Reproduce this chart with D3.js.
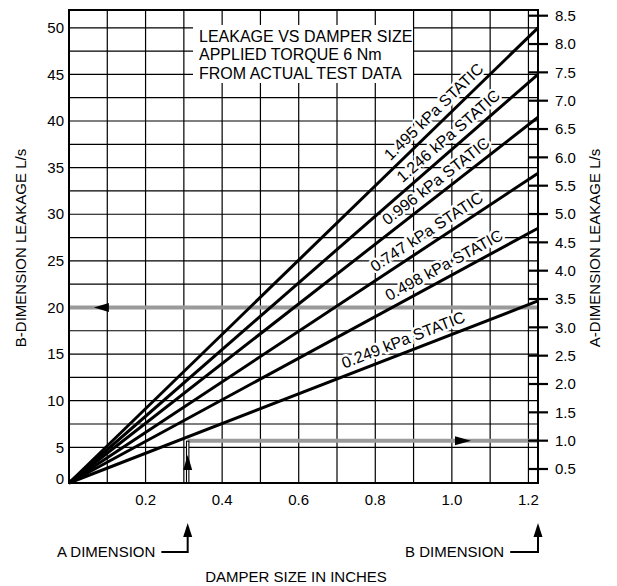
<!DOCTYPE html>
<html>
<head>
<meta charset="utf-8">
<script src="https://cdn.jsdelivr.net/npm/d3@7"></script>
<style>
  html, body { margin: 0; padding: 0; background: #fff; }
  svg { display: block; font-family: "Liberation Sans", Arial, Helvetica, sans-serif; }
</style>
</head>
<body>
<div id="chart"></div>
<script>
// static pressure of each curve (kPa)
const pressures = ["1.495", "1.246", "0.996", "0.747", "0.498", "0.249"];
// B-dimension leakage (L/s) where each curve meets the right edge of the grid
const edgeLeakage = [50.0, 45.0, 40.4, 34.4, 28.5, 20.7];
const edgeSize = 1.225;

const xTicks = [0.2, 0.4, 0.6, 0.8, 1.0, 1.2];
const xGrid = [0.1, 0.2, 0.3, 0.4, 0.5, 0.6, 0.7, 0.8, 0.9, 1.0, 1.1, 1.2];
const bTicks = [0, 5, 10, 15, 20, 25, 30, 35, 40, 45, 50];
const bGrid = [5, 7.5, 10, 12.5, 15, 17.5, 20, 22.5, 25, 27.5, 30, 32.5, 35, 37.5, 40, 42.5, 45, 47.5, 50];
const aTicks = [0.5, 1.0, 1.5, 2.0, 2.5, 3.0, 3.5, 4.0, 4.5, 5.0, 5.5, 6.0, 6.5, 7.0, 7.5, 8.0, 8.5];

const titleLines = ["LEAKAGE VS DAMPER SIZE", "APPLIED TORQUE 6 Nm", "FROM ACTUAL TEST DATA"];

// worked example: A dimension size (in) -> A leakage (L/s), B leakage read at the edge
const exampleASize = 0.31;
const exampleALeak = 1.0;
const exampleBLeak = 20;

const width = 617, height = 586;
const plotTop = 10, plotBottom = 483;

const svg = d3.select("#chart")
    .append("svg")
    .attr("width", width)
    .attr("height", height);

const x = d3.scaleLinear().domain([0, edgeSize]).range([69, 538]);
// left axis: the bottom step 0..5 is shorter on the original sheet
const yB = d3.scaleLinear().domain([0, 5, 50]).range([plotBottom, 447.3, 27.8]);
const yA = d3.scaleLinear().domain([0.5, 8.5]).range([469, 15.7]);

const left = x(0), right = x(edgeSize);

// grid
svg.append("g").selectAll("line")
    .data(xGrid)
    .join("line")
    .attr("x1", d => x(d)).attr("x2", d => x(d))
    .attr("y1", plotTop).attr("y2", plotBottom)
    .attr("stroke", "#000").attr("stroke-width", 1.2);

svg.append("g").selectAll("line")
    .data(bGrid)
    .join("line")
    .attr("x1", left).attr("x2", right)
    .attr("y1", d => yB(d)).attr("y2", d => yB(d))
    .attr("stroke", "#000").attr("stroke-width", 1.2);

// title box
const titleBox = svg.append("g").attr("transform", "translate(193, 25)");
titleBox.append("rect")
    .attr("width", 220).attr("height", 58)
    .attr("fill", "#fff");
titleBox.selectAll("text")
    .data(titleLines)
    .join("text")
    .attr("x", 6)
    .attr("y", (d, i) => 17 + i * 18.3)
    .style("font-size", "16px")
    .text(d => d);

// example read-off lines (gray)
const yBand = yB(exampleBLeak);
const yBandA = yA(exampleALeak);
svg.append("line")
    .attr("x1", left).attr("x2", right)
    .attr("y1", yBand).attr("y2", yBand)
    .attr("stroke", "#9a9a9a").attr("stroke-width", 4);
svg.append("line")
    .attr("x1", x(exampleASize)).attr("x2", right)
    .attr("y1", yBandA).attr("y2", yBandA)
    .attr("stroke", "#9a9a9a").attr("stroke-width", 4);

// vertical hollow line up from A dimension
svg.append("line")
    .attr("x1", x(exampleASize)).attr("x2", x(exampleASize))
    .attr("y1", plotBottom).attr("y2", yBandA)
    .attr("stroke", "#000").attr("stroke-width", 3.5);
svg.append("line")
    .attr("x1", x(exampleASize)).attr("x2", x(exampleASize))
    .attr("y1", plotBottom).attr("y2", yBandA + 1)
    .attr("stroke", "#fff").attr("stroke-width", 1.3);

// curve labels with white knockout
const lines = pressures.map((p, i) => ({
    label: `${p} kPa STATIC`,
    p0: [x(0), yB(0)],
    p1: [x(edgeSize), yB(edgeLeakage[i])]
}));
const labelAt = [0.975, 1.012, 0.978, 0.952, 0.995, 0.885];

svg.append("g").selectAll("text")
    .data(lines)
    .join("text")
    .attr("transform", (d, i) => {
        const slope = (d.p1[1] - d.p0[1]) / (d.p1[0] - d.p0[0]);
        const cx = x(labelAt[i]);
        const cy = d.p0[1] + (cx - d.p0[0]) * slope;
        const angle = Math.atan(slope) * 180 / Math.PI;
        return `translate(${cx}, ${cy}) rotate(${angle})`;
    })
    .attr("y", -7)
    .attr("text-anchor", "middle")
    .style("font-size", "16px")
    .attr("stroke", "#fff")
    .attr("stroke-width", 5)
    .attr("stroke-linejoin", "round")
    .attr("paint-order", "stroke")
    .attr("fill", "#000")
    .text(d => d.label);

// curves
const lineGen = d3.line();
svg.append("g").selectAll("path")
    .data(lines)
    .join("path")
    .attr("d", d => lineGen([d.p0, d.p1]))
    .attr("fill", "none")
    .attr("stroke", "#000")
    .attr("stroke-width", 3);

// arrow heads
function arrow(tipX, tipY, dir, len, half) {
    // dir: "left", "right", "up"
    let pts;
    if (dir === "left") pts = [[tipX, tipY], [tipX + len, tipY - half], [tipX + len, tipY + half]];
    else if (dir === "right") pts = [[tipX, tipY], [tipX - len, tipY - half], [tipX - len, tipY + half]];
    else pts = [[tipX, tipY], [tipX - half, tipY + len], [tipX + half, tipY + len]];
    svg.append("path")
        .attr("d", "M" + pts.join("L") + "Z")
        .attr("fill", "#000");
}
arrow(x(0.065), yBand, "left", 15, 4.5);
arrow(x(1.05), yBandA, "right", 16, 4.5);
arrow(x(exampleASize), 455, "up", 15, 4.5);

// frame
svg.append("rect")
    .attr("x", left).attr("y", plotTop)
    .attr("width", right - left).attr("height", plotBottom - plotTop)
    .attr("fill", "none")
    .attr("stroke", "#000").attr("stroke-width", 2);

// left tick labels
svg.append("g").selectAll("text")
    .data(bTicks)
    .join("text")
    .attr("x", left - 5)
    .attr("y", d => yB(d) - (d === 0 ? 4 : 0))
    .attr("dy", "0.35em")
    .attr("text-anchor", "end")
    .style("font-size", "15px")
    .text(d => d);

// right ticks
svg.append("g").selectAll("line")
    .data(aTicks)
    .join("line")
    .attr("x1", right - 10).attr("x2", right + 10)
    .attr("y1", d => yA(d)).attr("y2", d => yA(d))
    .attr("stroke", "#000").attr("stroke-width", 2.2);

svg.append("g").selectAll("text")
    .data(aTicks)
    .join("text")
    .attr("x", right + 17)
    .attr("y", d => yA(d))
    .attr("dy", "0.35em")
    .style("font-size", "15px")
    .text(d => d.toFixed(1));

// x tick labels
svg.append("g").selectAll("text")
    .data(xTicks)
    .join("text")
    .attr("x", d => x(d))
    .attr("y", 505)
    .attr("text-anchor", "middle")
    .style("font-size", "15px")
    .text(d => d.toFixed(1));

// axis titles
svg.append("text")
    .attr("transform", "translate(26, 248) rotate(-90)")
    .attr("text-anchor", "middle")
    .style("font-size", "15px")
    .text("B-DIMENSION LEAKAGE L/s");

svg.append("text")
    .attr("transform", "translate(600, 248) rotate(-90)")
    .attr("text-anchor", "middle")
    .style("font-size", "15px")
    .text("A-DIMENSION LEAKAGE L/s");

svg.append("text")
    .attr("x", 296).attr("y", 582)
    .attr("text-anchor", "middle")
    .style("font-size", "15px")
    .text("DAMPER SIZE IN INCHES");

// A / B dimension pointers
const pointers = [
    { text: "A DIMENSION", size: exampleASize, textX: 57 },
    { text: "B DIMENSION", size: edgeSize, textX: 405 }
];
pointers.forEach(p => {
    const t = svg.append("text")
        .attr("x", p.textX).attr("y", 557)
        .style("font-size", "15px")
        .text(p.text);
    const tw = t.node().getComputedTextLength();
    const px = x(p.size);
    svg.append("path")
        .attr("d", `M${p.textX + tw + 6},552H${px}V535`)
        .attr("fill", "none")
        .attr("stroke", "#000")
        .attr("stroke-width", 2);
    arrow(px, 523, "up", 14, 4.5);
});
</script>
</body>
</html>
